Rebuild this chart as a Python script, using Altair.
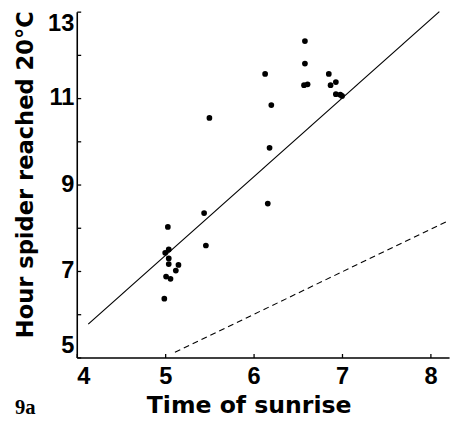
import altair as alt
import pandas as pd

# Observed points: time of sunrise (h) vs hour spider reached 20 °C
sunrise = [5.03, 5.00, 5.04, 5.04, 5.04, 5.15, 5.12, 5.01, 5.06, 4.99,
           5.46, 5.44, 5.50, 6.13, 6.16, 6.18, 6.20, 6.57, 6.58, 6.58,
           6.61, 6.85, 6.87, 6.93, 6.93, 6.98, 7.00]
hour20 = [8.02, 7.42, 7.50, 7.29, 7.16, 7.14, 7.01, 6.87, 6.82, 6.36,
          7.59, 8.34, 10.54, 11.56, 8.56, 9.85, 10.84, 11.30, 11.80, 12.32,
          11.32, 11.56, 11.30, 11.37, 11.09, 11.08, 11.05]

# Regression line (solid) and reference line (dashed)
fit_x = [4.13, 8.10]
fit_y = [5.77, 13.0]
ref_x = [5.11, 8.21]
ref_y = [5.12, 8.17]

x_ticks = [4, 5, 6, 7, 8]
y_ticks = [5, 6, 7, 8, 9, 10, 11, 12, 13]
y_labels = [5, 7, 9, 11, 13]
panel_label = ["9a"]

x_domain = [4, 8.21]
y_domain = [5, 13]

pts = pd.DataFrame({"sunrise": sunrise, "hour": hour20})
fit = pd.DataFrame({"sunrise": fit_x, "hour": fit_y})
ref = pd.DataFrame({"sunrise": ref_x, "hour": ref_y})
lab = pd.DataFrame({"label": panel_label})

xs = alt.Scale(domain=x_domain, nice=False, zero=False)
ys = alt.Scale(domain=y_domain, nice=False, zero=False)

main_x_axis = alt.Axis(
    values=x_ticks, ticks=False, tickSize=0, grid=False,
    domainColor="black", domainWidth=1.6,
    labelFont="Liberation Sans", labelFontWeight="bold", labelFontSize=24,
    labelColor="black", labelPadding=8, labelFlush=True,
    title="Time of sunrise", titleFont="DejaVu Sans", titleFontWeight="bold",
    titleFontSize=24, titleColor="black", titleX=175, titleY=56,
    titleAlign="center", titleBaseline="alphabetic",
)
main_y_axis = alt.Axis(
    values=y_labels, ticks=False, tickSize=0, grid=False,
    domainColor="black", domainWidth=1.6,
    labelFont="Liberation Sans", labelFontWeight="bold", labelFontSize=24,
    labelColor="black", labelPadding=3, labelFlush=True,
    title="Hour spider reached 20°C", titleFont="DejaVu Sans",
    titleFontWeight="bold", titleFontSize=23, titleColor="black",
    titleX=-44.7, titleY=165.5, titleAngle=-90,
    titleAlign="center", titleBaseline="alphabetic",
)
# inward ticks: an extra axis moved inside, ticks pointing back to the edge
tick_x_axis = alt.Axis(
    values=x_ticks, orient="bottom", offset=-4, tickSize=4, tickWidth=1.3,
    tickColor="black", domain=False, labels=False, grid=False, title="",
)
tick_y_axis = alt.Axis(
    values=y_ticks, orient="left", offset=-4, tickSize=4, tickWidth=1.3,
    tickColor="black", domain=False, labels=False, grid=False, title="",
)

points = alt.Chart(pts).mark_circle(size=34, color="black", opacity=1).encode(
    x=alt.X("sunrise:Q", scale=xs, axis=main_x_axis),
    y=alt.Y("hour:Q", scale=ys, axis=main_y_axis),
)

fit_line = alt.Chart(fit).mark_line(color="black", strokeWidth=1.2).encode(
    x=alt.X("sunrise:Q", scale=xs, axis=tick_x_axis),
    y=alt.Y("hour:Q", scale=ys, axis=tick_y_axis),
)

ref_line = alt.Chart(ref).mark_line(
    color="black", strokeWidth=1.1, strokeDash=[6, 4]
).encode(
    x=alt.X("sunrise:Q", scale=xs, axis=None),
    y=alt.Y("hour:Q", scale=ys, axis=None),
)

panel = alt.Chart(lab).mark_text(
    font="Liberation Serif", fontWeight="bold", fontSize=21, color="black",
    align="left", baseline="alphabetic",
).encode(
    text="label:N",
    x=alt.value(-63),
    y=alt.value(410),
)

chart = alt.layer(points, fit_line, ref_line, panel).resolve_axis(
    x="independent", y="independent"
).properties(
    width=379, height=352,
    autosize=alt.AutoSizeParams(type="none"),
    padding={"left": 70, "top": 0, "right": 4, "bottom": 62},
).configure_view(stroke="transparent")

chart.save("out.html", embed_options={"renderer": "svg", "actions": False})
